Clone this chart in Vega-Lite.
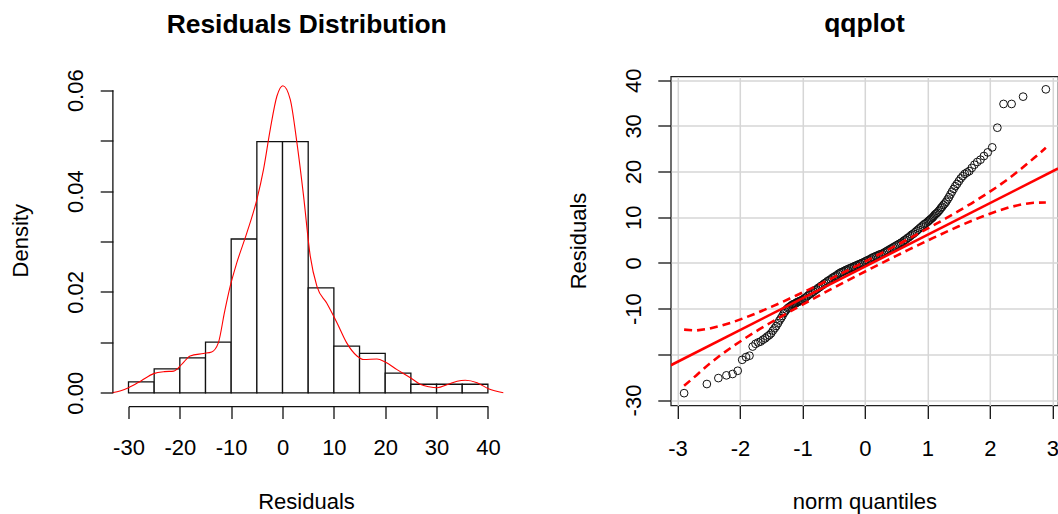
{
  "$schema": "https://vega.github.io/schema/vega-lite/v6.json",
  "padding": {"left": 9.5, "top": 9.5, "right": 0, "bottom": 0},
  "spacing": 182.3,
  "bounds": "flush",
  "config": {
    "view": {"stroke": null},
    "font": "Liberation Sans",
    "axis": {
      "labelFont": "Liberation Sans", "titleFont": "Liberation Sans",
      "labelFontSize": 22, "titleFontSize": 22,
      "labelColor": "#000", "titleColor": "#000", "titleFontWeight": "normal",
      "tickColor": "#111", "domainColor": "#111", "tickWidth": 1.3, "domainWidth": 1.3,
      "labelOverlap": false, "labelFlush": false, "labelBound": false, "grid": false
    },
    "title": {
      "font": "Liberation Sans", "fontSize": 26.4, "fontWeight": "bold", "color": "#000",
      "anchor": "middle", "frame": "group", "offset": 30.8
    }
  },
  "datasets": {
    "hist": [
      {"b0": -30, "b1": -25, "d": 0.00218},
      {"b0": -25, "b1": -20, "d": 0.00476},
      {"b0": -20, "b1": -15, "d": 0.00694},
      {"b0": -15, "b1": -10, "d": 0.01004},
      {"b0": -10, "b1": -5, "d": 0.0305},
      {"b0": -5, "b1": 0, "d": 0.0498},
      {"b0": 0, "b1": 5, "d": 0.0498},
      {"b0": 5, "b1": 10, "d": 0.0208},
      {"b0": 10, "b1": 15, "d": 0.00925},
      {"b0": 15, "b1": 20, "d": 0.0078},
      {"b0": 20, "b1": 25, "d": 0.0039},
      {"b0": 25, "b1": 30, "d": 0.0017},
      {"b0": 30, "b1": 35, "d": 0.0017},
      {"b0": 35, "b1": 40, "d": 0.0017}
    ],
    "dens": [
      {"x": -33.2, "d": 0.0}, {"x": -31.5, "d": 0.0004}, {"x": -30, "d": 0.001},
      {"x": -27.5, "d": 0.0024}, {"x": -25.1, "d": 0.0038}, {"x": -23, "d": 0.0042},
      {"x": -21.2, "d": 0.0043}, {"x": -19.5, "d": 0.0058}, {"x": -18.0, "d": 0.0073},
      {"x": -15.4, "d": 0.0078}, {"x": -13.8, "d": 0.0081}, {"x": -12.5, "d": 0.0099},
      {"x": -11.3, "d": 0.016}, {"x": -10.2, "d": 0.0211}, {"x": -8.9, "d": 0.0258},
      {"x": -6.95, "d": 0.0317}, {"x": -5.0, "d": 0.0383}, {"x": -3.7, "d": 0.0443},
      {"x": -2.4, "d": 0.0522}, {"x": -1.1, "d": 0.0588}, {"x": 0.06, "d": 0.0609},
      {"x": 1.5, "d": 0.0582}, {"x": 2.8, "d": 0.0496}, {"x": 4.1, "d": 0.039},
      {"x": 5.4, "d": 0.0271}, {"x": 6.7, "d": 0.0211}, {"x": 8.6, "d": 0.0178},
      {"x": 10.6, "d": 0.0139}, {"x": 12.5, "d": 0.0099}, {"x": 14.5, "d": 0.0073},
      {"x": 15.8, "d": 0.0066}, {"x": 18.4, "d": 0.0067}, {"x": 20.0, "d": 0.0061},
      {"x": 22.3, "d": 0.0046}, {"x": 24.9, "d": 0.003}, {"x": 26.8, "d": 0.0017},
      {"x": 28.5, "d": 0.0012}, {"x": 30.1, "d": 0.001}, {"x": 32.3, "d": 0.0017},
      {"x": 34.0, "d": 0.0023}, {"x": 35.6, "d": 0.0025}, {"x": 37.9, "d": 0.002},
      {"x": 40.1, "d": 0.0008}, {"x": 43.0, "d": 0.0}
    ],
    "qq": [
      {"q": -2.894, "r": -28.5}, {"q": -2.530, "r": -26.5}, {"q": -2.346, "r": -25.2},
      {"q": -2.217, "r": -24.6}, {"q": -2.118, "r": -24.3}, {"q": -2.036, "r": -23.6},
      {"q": -1.965, "r": -21.2}, {"q": -1.903, "r": -20.6}, {"q": -1.848, "r": -20.3},
      {"q": -1.797, "r": -18.3}, {"q": -1.751, "r": -17.7}, {"q": -1.709, "r": -17.4},
      {"q": -1.669, "r": -17.2}, {"q": -1.632, "r": -16.8}, {"q": -1.597, "r": -16.5},
      {"q": -1.564, "r": -16.1}, {"q": -1.532, "r": -15.8}, {"q": -1.502, "r": -15.4},
      {"q": -1.473, "r": -14.8}, {"q": -1.445, "r": -14.3}, {"q": -1.419, "r": -13.8},
      {"q": -1.393, "r": -13.2}, {"q": -1.368, "r": -12.6}, {"q": -1.344, "r": -12.1},
      {"q": -1.321, "r": -11.6}, {"q": -1.299, "r": -11.0}, {"q": -1.277, "r": -10.6},
      {"q": -1.256, "r": -10.2}, {"q": -1.235, "r": -9.9}, {"q": -1.215, "r": -9.7},
      {"q": -1.195, "r": -9.5}, {"q": -1.176, "r": -9.3}, {"q": -1.157, "r": -9.1},
      {"q": -1.139, "r": -9.0}, {"q": -1.121, "r": -8.9}, {"q": -1.103, "r": -8.8},
      {"q": -1.086, "r": -8.6}, {"q": -1.069, "r": -8.5}, {"q": -1.052, "r": -8.4},
      {"q": -1.035, "r": -8.3}, {"q": -1.019, "r": -8.2}, {"q": -1.003, "r": -8.1},
      {"q": -0.975, "r": -7.8}, {"q": -0.950, "r": -7.6}, {"q": -0.925, "r": -7.3},
      {"q": -0.900, "r": -7.0}, {"q": -0.875, "r": -6.8}, {"q": -0.850, "r": -6.5},
      {"q": -0.825, "r": -6.3}, {"q": -0.800, "r": -6.0}, {"q": -0.775, "r": -5.8},
      {"q": -0.750, "r": -5.5}, {"q": -0.725, "r": -5.3}, {"q": -0.700, "r": -5.0},
      {"q": -0.675, "r": -4.8}, {"q": -0.650, "r": -4.5}, {"q": -0.625, "r": -4.3},
      {"q": -0.600, "r": -4.0}, {"q": -0.575, "r": -3.8}, {"q": -0.550, "r": -3.6},
      {"q": -0.525, "r": -3.3}, {"q": -0.500, "r": -3.1}, {"q": -0.475, "r": -2.9},
      {"q": -0.450, "r": -2.7}, {"q": -0.425, "r": -2.4}, {"q": -0.400, "r": -2.2},
      {"q": -0.375, "r": -2.0}, {"q": -0.350, "r": -1.9}, {"q": -0.325, "r": -1.7},
      {"q": -0.300, "r": -1.5}, {"q": -0.275, "r": -1.4}, {"q": -0.250, "r": -1.2},
      {"q": -0.225, "r": -1.1}, {"q": -0.200, "r": -0.9}, {"q": -0.175, "r": -0.8},
      {"q": -0.150, "r": -0.6}, {"q": -0.125, "r": -0.5}, {"q": -0.100, "r": -0.3},
      {"q": -0.075, "r": -0.2}, {"q": -0.050, "r": 0.0}, {"q": -0.025, "r": 0.1},
      {"q": 0.000, "r": 0.3}, {"q": 0.025, "r": 0.5}, {"q": 0.050, "r": 0.6},
      {"q": 0.075, "r": 0.8}, {"q": 0.100, "r": 1.0}, {"q": 0.125, "r": 1.2},
      {"q": 0.150, "r": 1.3}, {"q": 0.175, "r": 1.5}, {"q": 0.200, "r": 1.6},
      {"q": 0.225, "r": 1.8}, {"q": 0.250, "r": 1.9}, {"q": 0.275, "r": 2.0},
      {"q": 0.300, "r": 2.2}, {"q": 0.325, "r": 2.4}, {"q": 0.350, "r": 2.6},
      {"q": 0.375, "r": 2.8}, {"q": 0.400, "r": 3.0}, {"q": 0.425, "r": 3.2},
      {"q": 0.450, "r": 3.4}, {"q": 0.475, "r": 3.6}, {"q": 0.500, "r": 3.8},
      {"q": 0.525, "r": 4.0}, {"q": 0.550, "r": 4.2}, {"q": 0.575, "r": 4.4},
      {"q": 0.600, "r": 4.6}, {"q": 0.625, "r": 4.9}, {"q": 0.650, "r": 5.1},
      {"q": 0.675, "r": 5.4}, {"q": 0.700, "r": 5.6}, {"q": 0.725, "r": 5.9},
      {"q": 0.750, "r": 6.2}, {"q": 0.775, "r": 6.4}, {"q": 0.800, "r": 6.7},
      {"q": 0.825, "r": 7.0}, {"q": 0.850, "r": 7.3}, {"q": 0.875, "r": 7.6},
      {"q": 0.900, "r": 7.9}, {"q": 0.925, "r": 8.2}, {"q": 0.950, "r": 8.5},
      {"q": 0.975, "r": 8.7},
      {"q": 1.003, "r": 9.0}, {"q": 1.019, "r": 9.2}, {"q": 1.035, "r": 9.4},
      {"q": 1.052, "r": 9.6}, {"q": 1.069, "r": 9.8}, {"q": 1.086, "r": 10.0},
      {"q": 1.103, "r": 10.3}, {"q": 1.121, "r": 10.6}, {"q": 1.139, "r": 10.8},
      {"q": 1.157, "r": 11.0}, {"q": 1.176, "r": 11.3}, {"q": 1.195, "r": 11.6},
      {"q": 1.215, "r": 12.0}, {"q": 1.235, "r": 12.3}, {"q": 1.256, "r": 12.7},
      {"q": 1.277, "r": 13.0}, {"q": 1.299, "r": 13.4}, {"q": 1.321, "r": 13.9},
      {"q": 1.344, "r": 14.4}, {"q": 1.368, "r": 15.0}, {"q": 1.393, "r": 15.6},
      {"q": 1.419, "r": 16.2}, {"q": 1.445, "r": 16.8}, {"q": 1.473, "r": 17.3},
      {"q": 1.502, "r": 17.9}, {"q": 1.532, "r": 18.5}, {"q": 1.564, "r": 19.0},
      {"q": 1.597, "r": 19.5}, {"q": 1.632, "r": 19.8}, {"q": 1.669, "r": 20.1},
      {"q": 1.709, "r": 20.8}, {"q": 1.751, "r": 21.5}, {"q": 1.797, "r": 22.1},
      {"q": 1.848, "r": 22.6}, {"q": 1.903, "r": 23.4}, {"q": 1.965, "r": 24.2},
      {"q": 2.036, "r": 25.3}, {"q": 2.118, "r": 29.6}, {"q": 2.217, "r": 34.8},
      {"q": 2.346, "r": 34.8}, {"q": 2.530, "r": 36.4}, {"q": 2.894, "r": 38.0}
    ],
    "refline": [
      {"q": -3.107, "r": -22.39}, {"q": 3.09, "r": 20.68}
    ],
    "env": [
      {"q": -2.894, "r": -14.6, "side": "upper"}, {"q": -2.7, "r": -14.79, "side": "upper"},
      {"q": -2.5, "r": -14.40, "side": "upper"}, {"q": -2.3, "r": -13.74, "side": "upper"},
      {"q": -2.1, "r": -12.88, "side": "upper"}, {"q": -1.9, "r": -11.89, "side": "upper"},
      {"q": -1.7, "r": -10.79, "side": "upper"}, {"q": -1.5, "r": -9.62, "side": "upper"},
      {"q": -1.3, "r": -8.40, "side": "upper"}, {"q": -1.1, "r": -7.13, "side": "upper"},
      {"q": -0.9, "r": -5.83, "side": "upper"}, {"q": -0.7, "r": -4.51, "side": "upper"},
      {"q": -0.5, "r": -3.16, "side": "upper"}, {"q": -0.3, "r": -1.79, "side": "upper"},
      {"q": -0.1, "r": -0.41, "side": "upper"}, {"q": 0.1, "r": 0.99, "side": "upper"},
      {"q": 0.3, "r": 2.41, "side": "upper"}, {"q": 0.5, "r": 3.84, "side": "upper"},
      {"q": 0.7, "r": 5.29, "side": "upper"}, {"q": 0.9, "r": 6.77, "side": "upper"},
      {"q": 1.1, "r": 8.27, "side": "upper"}, {"q": 1.3, "r": 9.80, "side": "upper"},
      {"q": 1.5, "r": 11.38, "side": "upper"}, {"q": 1.7, "r": 13.01, "side": "upper"},
      {"q": 1.9, "r": 14.72, "side": "upper"}, {"q": 2.1, "r": 16.52, "side": "upper"},
      {"q": 2.3, "r": 18.46, "side": "upper"}, {"q": 2.5, "r": 20.60, "side": "upper"},
      {"q": 2.7, "r": 22.9, "side": "upper"}, {"q": 2.894, "r": 25.2, "side": "upper"},
      {"q": -2.894, "r": -26.9, "side": "lower"}, {"q": -2.7, "r": -24.61, "side": "lower"},
      {"q": -2.5, "r": -22.20, "side": "lower"}, {"q": -2.3, "r": -20.06, "side": "lower"},
      {"q": -2.1, "r": -18.12, "side": "lower"}, {"q": -1.9, "r": -16.32, "side": "lower"},
      {"q": -1.7, "r": -14.61, "side": "lower"}, {"q": -1.5, "r": -12.98, "side": "lower"},
      {"q": -1.3, "r": -11.40, "side": "lower"}, {"q": -1.1, "r": -9.87, "side": "lower"},
      {"q": -0.9, "r": -8.37, "side": "lower"}, {"q": -0.7, "r": -6.89, "side": "lower"},
      {"q": -0.5, "r": -5.44, "side": "lower"}, {"q": -0.3, "r": -4.01, "side": "lower"},
      {"q": -0.1, "r": -2.59, "side": "lower"}, {"q": 0.1, "r": -1.19, "side": "lower"},
      {"q": 0.3, "r": 0.19, "side": "lower"}, {"q": 0.5, "r": 1.56, "side": "lower"},
      {"q": 0.7, "r": 2.91, "side": "lower"}, {"q": 0.9, "r": 4.23, "side": "lower"},
      {"q": 1.1, "r": 5.53, "side": "lower"}, {"q": 1.3, "r": 6.80, "side": "lower"},
      {"q": 1.5, "r": 8.02, "side": "lower"}, {"q": 1.7, "r": 9.19, "side": "lower"},
      {"q": 1.9, "r": 10.29, "side": "lower"}, {"q": 2.1, "r": 11.28, "side": "lower"},
      {"q": 2.3, "r": 12.14, "side": "lower"}, {"q": 2.5, "r": 12.80, "side": "lower"},
      {"q": 2.7, "r": 13.19, "side": "lower"}, {"q": 2.894, "r": 13.22, "side": "lower"}
    ]
  },
  "hconcat": [
    {
      "width": 359.4,
      "height": 316.3,
      "title": {"text": "Residuals Distribution", "dx": -1.5},
      "layer": [
        {
          "data": {"name": "hist"},
          "mark": {"type": "rect", "fill": "#ffffff", "stroke": "#111", "strokeWidth": 1.3},
          "encoding": {
            "x": {
              "field": "b0", "type": "quantitative",
              "scale": {"domain": [-30, 40], "nice": false, "zero": false},
              "axis": {
                "title": "Residuals", "values": [-30, -20, -10, 0, 10, 20, 30, 40],
                "offset": 13.4, "tickSize": 12.3, "labelPadding": 36,
                "labelBaseline": "alphabetic",
                "labelExpr": "datum.value < 0 ? '-' + abs(datum.value) : '' + datum.value",
                "titleX": 177.5, "titleY": 102.6, "titleBaseline": "alphabetic"
              }
            },
            "x2": {"field": "b1"},
            "y": {
              "field": "d", "type": "quantitative",
              "scale": {"domain": [0, 0.06272], "nice": false},
              "axis": {
                "title": "Density", "values": [0, 0.01, 0.02, 0.03, 0.04, 0.05, 0.06],
                "offset": 15.6, "domain": false, "tickSize": 12.7, "labelPadding": 18,
                "labelAngle": -90, "labelAlign": "center", "labelBaseline": "alphabetic",
                "labelExpr": "(datum.value == 0 || datum.value == 0.02 || datum.value == 0.04 || datum.value == 0.06) ? format(datum.value, '.2f') : ''",
                "titleX": -85.2, "titleY": 163.8, "titleBaseline": "alphabetic", "titleAngle": -90
              }
            },
            "y2": {"datum": 0}
          }
        },
        {
          "data": {"name": "dens"},
          "mark": {"type": "line", "color": "#ff0000", "strokeWidth": 1.1, "interpolate": "monotone"},
          "encoding": {
            "x": {"field": "x", "type": "quantitative"},
            "y": {"field": "d", "type": "quantitative"}
          }
        },
        {
          "data": {"values": [{}]},
          "mark": {"type": "rule", "color": "#111", "strokeWidth": 1.3},
          "encoding": {
            "x": {"datum": -33.04},
            "y": {"datum": 0},
            "y2": {"datum": 0.06}
          }
        }
      ]
    },
    {
      "width": 387.3,
      "height": 329,
      "title": {"text": "qqplot"},
      "view": {"stroke": "#222", "strokeWidth": 1.3},
      "layer": [
        {
          "data": {"name": "qq"},
          "mark": {"type": "point", "shape": "circle", "filled": false, "size": 60, "stroke": "#111", "strokeWidth": 1, "opacity": 1},
          "encoding": {
            "x": {
              "field": "q", "type": "quantitative",
              "scale": {"domain": [-3.107, 3.09], "nice": false, "zero": false},
              "axis": {
                "title": "norm quantiles", "values": [-3, -2, -1, 0, 1, 2, 3],
                "domain": false, "grid": true, "gridColor": "#d6d6d6", "gridWidth": 1.5,
                "tickSize": 13, "labelPadding": 37, "labelBaseline": "alphabetic",
                "labelExpr": "datum.value < 0 ? '-' + abs(datum.value) : '' + datum.value",
                "titleY": 103, "titleBaseline": "alphabetic"
              }
            },
            "y": {
              "field": "r", "type": "quantitative",
              "scale": {"domain": [-31.2, 40.81], "nice": false, "zero": false},
              "axis": {
                "title": "Residuals", "values": [-30, -20, -10, 0, 10, 20, 30, 40],
                "domain": false, "grid": true, "gridColor": "#d6d6d6", "gridWidth": 1.5,
                "tickSize": 13, "labelPadding": 17,
                "labelAngle": -90, "labelAlign": "center", "labelBaseline": "alphabetic",
                "labelExpr": "datum.value == -20 ? '' : (datum.value < 0 ? '-' + abs(datum.value) : '' + datum.value)",
                "titleX": -85.5, "titleY": 164, "titleBaseline": "alphabetic", "titleAngle": -90
              }
            }
          }
        },
        {
          "data": {"name": "refline"},
          "mark": {"type": "line", "color": "#ff0000", "strokeWidth": 2.6, "clip": true},
          "encoding": {
            "x": {"field": "q", "type": "quantitative"},
            "y": {"field": "r", "type": "quantitative"}
          }
        },
        {
          "data": {"name": "env"},
          "mark": {"type": "line", "color": "#ff0000", "strokeWidth": 2.6, "strokeDash": [8, 5]},
          "encoding": {
            "x": {"field": "q", "type": "quantitative"},
            "y": {"field": "r", "type": "quantitative"},
            "detail": {"field": "side", "type": "nominal"}
          }
        }
      ]
    }
  ]
}
